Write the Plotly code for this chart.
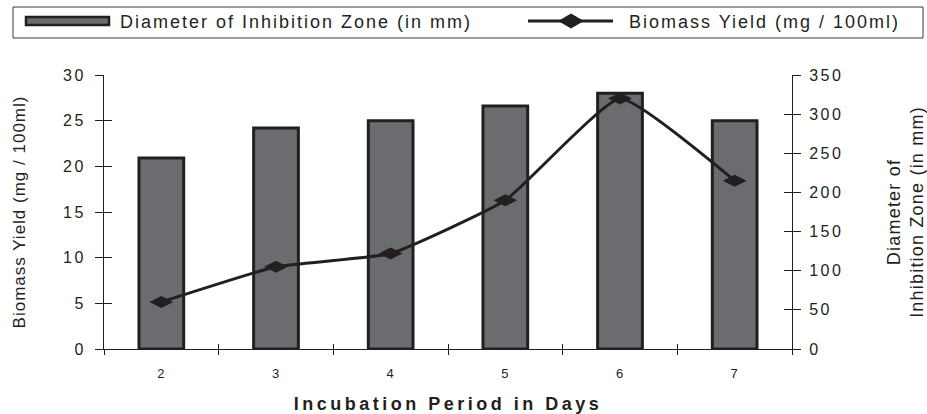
import plotly.graph_objects as go

days = ["2", "3", "4", "5", "6", "7"]
inhibition_zone = [20.9, 24.2, 25.0, 26.6, 28.0, 25.0]
biomass_yield = [60, 105, 122, 190, 320, 215]

left_ticks = [0, 5, 10, 15, 20, 25, 30]
right_ticks = [0, 50, 100, 150, 200, 250, 300, 350]

legend_bar_label = "Diameter of Inhibition Zone (in mm)"
legend_line_label = "Biomass Yield (mg / 100ml)"

INK = "#231f20"
BAR_FILL = "#6b6c70"
FONT = "Liberation Sans, Arial, sans-serif"

W, H = 927, 414
ML, MR, MT, MB = 104, 135, 75, 65
PW, PH = W - ML - MR, H - MT - MB
LEGEND_LS = 2  # letter spacing of legend text (px)


def px(x):
    return (x - ML) / PW


def py(y):
    return (H - MB - y) / PH


fig = go.Figure()

fig.add_trace(go.Bar(
    x=days, y=inhibition_zone, name=legend_bar_label,
    marker=dict(color=BAR_FILL, line=dict(color=INK, width=3)),
    width=0.39, yaxis="y", xaxis="x", showlegend=False,
))
fig.add_trace(go.Scatter(
    x=days, y=biomass_yield, name=legend_line_label,
    mode="lines+markers", line=dict(color=INK, width=3, shape="spline", smoothing=0.4),
    marker=dict(symbol="diamond-wide", size=17, color=INK),
    yaxis="y2", xaxis="x", showlegend=False,
))
# empty helper traces so the overlay axes (inward half of crossing ticks) exist
fig.add_trace(go.Scatter(x=[], y=[], xaxis="x2", yaxis="y3", showlegend=False, hoverinfo="skip"))
fig.add_trace(go.Scatter(x=[], y=[], xaxis="x", yaxis="y4", showlegend=False, hoverinfo="skip"))

tickfont = dict(family=FONT, size=16, color=INK)
common_x = dict(type="category", categoryarray=days, categoryorder="array",
                range=[-0.5, 5.5], tickson="boundaries", showgrid=False, zeroline=False,
                automargin=False)

fig.update_layout(
    width=W, height=H,
    margin=dict(l=ML, r=MR, t=MT, b=MB, autoexpand=False),
    paper_bgcolor="white", plot_bgcolor="white",
    font=dict(family=FONT, color=INK),
    xaxis=dict(**common_x, ticks="outside", ticklen=5, tickwidth=1, tickcolor=INK,
               showline=True, linecolor=INK, linewidth=1,
               tickfont=dict(family=FONT, size=13, color=INK), ticklabelstandoff=12,
               title=dict(text="<b>Incubation Period in Days</b>",
                          font=dict(family=FONT, size=18, color=INK),
                          standoff=17)),
    xaxis2=dict(**common_x, overlaying="x", anchor="y", side="bottom",
                ticks="inside", ticklen=5, tickwidth=1, tickcolor=INK,
                showticklabels=False, showline=False),
    yaxis=dict(range=[0, 30], tickvals=left_ticks, ticks="outside", ticklen=8, tickwidth=1,
               tickcolor=INK, showline=True, linecolor=INK, linewidth=1, showgrid=False,
               zeroline=False, tickfont=tickfont, ticklabelstandoff=6, automargin=False,
               title=dict(text="Biomass Yield (mg / 100ml)",
                          font=dict(family=FONT, size=17, color=INK), standoff=38)),
    yaxis3=dict(range=[0, 30], tickvals=left_ticks, overlaying="y", side="left", anchor="x2",
                ticks="inside", ticklen=8, tickwidth=1, tickcolor=INK, automargin=False,
                showticklabels=False, showline=False, showgrid=False, zeroline=False),
    yaxis2=dict(range=[0, 350], tickvals=right_ticks, overlaying="y", side="right", anchor="x",
                ticks="outside", ticklen=8, tickwidth=1, tickcolor=INK, showline=True,
                linecolor=INK, linewidth=1, showgrid=False, zeroline=False, automargin=False,
                tickfont=tickfont, ticklabelstandoff=5,
                title=dict(text="Diameter of<br>Inhibition Zone (in mm)",
                           font=dict(family=FONT, size=18, color=INK), standoff=52)),
    yaxis4=dict(range=[0, 350], tickvals=right_ticks, overlaying="y", side="right", anchor="x",
                ticks="inside", ticklen=8, tickwidth=1, tickcolor=INK, automargin=False,
                showticklabels=False, showline=False, showgrid=False, zeroline=False),
)

# manual legend (box, bar swatch, line swatch, labels)
shapes = [
    dict(type="rect", xref="paper", yref="paper", x0=px(13), x1=px(923), y0=py(38), y1=py(7),
         line=dict(color="#3a3a3a", width=1), fillcolor="white"),
    dict(type="rect", xref="paper", yref="paper", x0=px(26), x1=px(109), y0=py(25), y1=py(17),
         line=dict(color=INK, width=2.5), fillcolor=BAR_FILL),
    dict(type="line", xref="paper", yref="paper", x0=px(528), x1=px(613), y0=py(21), y1=py(21),
         line=dict(color=INK, width=3)),
]
cx, cy = 571, 21
shapes.append(dict(
    type="path", xref="paper", yref="paper",
    path=f"M {px(cx-12)},{py(cy)} L {px(cx)},{py(cy-7)} L {px(cx+12)},{py(cy)} L {px(cx)},{py(cy+7)} Z",
    fillcolor=INK, line=dict(color=INK, width=1)))
fig.update_layout(shapes=shapes)

# annotation text is centred, so letter spacing grows it both ways: compensate by half
for label, left in [(legend_bar_label, 118), (legend_line_label, 627)]:
    shift = LEGEND_LS * len(label) / 2
    fig.add_annotation(x=px(left + shift), y=py(22), xref="paper", yref="paper", xanchor="left",
                       yanchor="middle", showarrow=False, text=label,
                       font=dict(family=FONT, size=18, color=INK))

post_js = """
document.body.style.margin = '0';
var gd = document.getElementById('{plot_id}');
function ls(sel, v) { gd.querySelectorAll(sel).forEach(function (e) { e.style.letterSpacing = v; }); }
ls('.annotation-text', '%dpx');
ls('.xtitle', '3.5px');
ls('.ytitle', '1px');
ls('.y2title', '1.2px');
ls('.ytick text', '2.5px');
ls('.y2tick text', '2.5px');
ls('.xtick text', '1px');
""" % LEGEND_LS

fig.write_html("out.html", post_script=post_js, config={"displayModeBar": False})
